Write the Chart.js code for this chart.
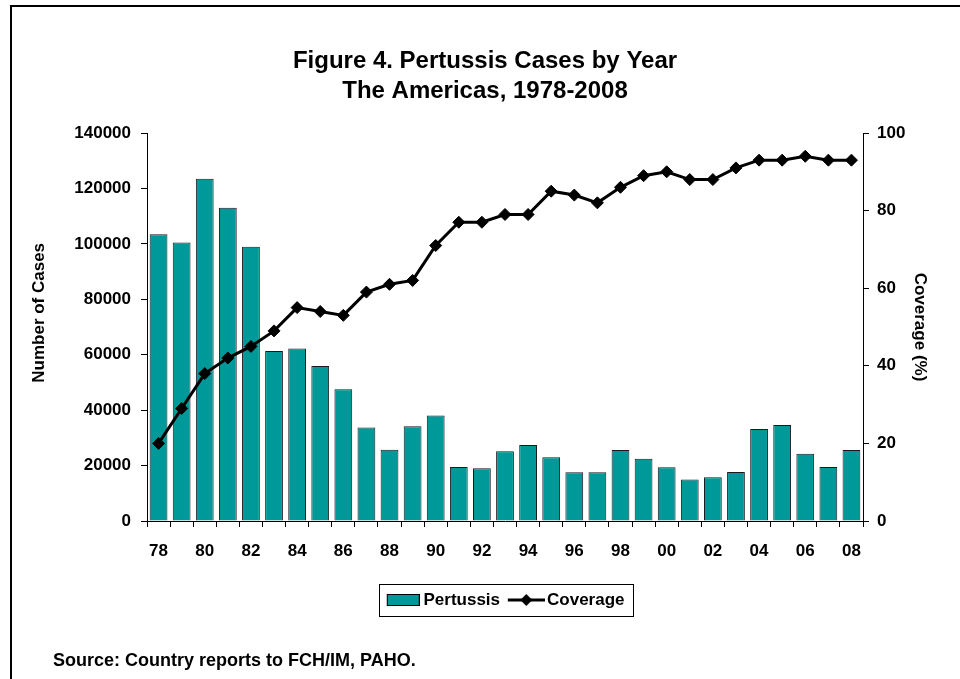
<!DOCTYPE html>
<html>
<head>
<meta charset="utf-8">
<script src="https://cdn.jsdelivr.net/npm/chart.js@4.4.1/dist/chart.umd.min.js"></script>
<style>
  html, body { margin: 0; padding: 0; background: #ffffff; }
  canvas { display: block; }
</style>
</head>
<body>
<canvas id="c" width="960" height="679"></canvas>
<script>
// ---- data ----
const years = ['78','79','80','81','82','83','84','85','86','87','88','89','90','91','92','93','94','95','96','97','98','99','00','01','02','03','04','05','06','07','08'];
const cases = [103500,100500,123500,113000,99000,61300,62200,55900,47500,33700,25700,34200,38100,19500,19000,25200,27400,23000,17600,17600,25600,22500,19400,15000,15800,17700,33200,34600,24300,19500,25600];
const coverage = [20,29,38,42,45,49,55,54,53,59,61,62,71,77,77,79,79,85,84,82,86,89,90,88,88,91,93,93,94,93,93];
const titleLines = ['Figure 4. Pertussis Cases by Year', 'The Americas, 1978-2008'];
const leftAxisTitle = 'Number of Cases';
const rightAxisTitle = 'Coverage (%)';
const seriesNames = ['Pertussis', 'Coverage'];
const sourceNote = 'Source: Country reports to FCH/IM, PAHO.';

const FONT = "'Liberation Sans', Arial, Helvetica, sans-serif";
const TEAL = '#009999';

Chart.defaults.font.family = FONT;
Chart.defaults.font.weight = 'bold';
Chart.defaults.color = '#000';

function makeBarSwatch() {
  const c = document.createElement('canvas');
  c.width = 39; c.height = 12;
  const g = c.getContext('2d');
  g.fillStyle = TEAL;
  g.fillRect(6, 0, 33, 12);
  g.strokeStyle = '#000';
  g.lineWidth = 1;
  g.strokeRect(6.5, 0.5, 32, 11);
  return c;
}
function makeLineSwatch() {
  const c = document.createElement('canvas');
  c.width = 42; c.height = 14;
  const g = c.getContext('2d');
  g.strokeStyle = '#000';
  g.lineWidth = 3;
  g.beginPath(); g.moveTo(5, 7); g.lineTo(42, 7); g.stroke();
  g.fillStyle = '#000';
  g.beginPath();
  g.moveTo(23.5, 1); g.lineTo(29.5, 7); g.lineTo(23.5, 13); g.lineTo(17.5, 7); g.closePath();
  g.fill();
  return c;
}
const barSwatch = makeBarSwatch();
const lineSwatch = makeLineSwatch();

const tickFont = { size: 17, weight: 'bold', family: FONT };

const decor = {
  id: 'decor',
  afterDraw(chart) {
    const ctx = chart.ctx;
    ctx.save();
    ctx.fillStyle = '#000';
    ctx.fillRect(10, 5, 950, 2);
    ctx.fillRect(10, 5, 2, 674);
    const hb = chart.legend && chart.legend.legendHitBoxes;
    if (hb && hb.length) {
      const last = hb[hb.length - 1];
      const l = Math.round(hb[0].left - 6);
      const r = Math.round(last.left + last.width + 8);
      const t = Math.round(hb[0].top - 8);
      const b = Math.round(hb[0].top + hb[0].height + 7);
      ctx.strokeStyle = '#000';
      ctx.lineWidth = 1;
      ctx.strokeRect(l + 0.5, t + 0.5, r - l, b - t);
    }
    ctx.font = "bold 18px " + FONT;
    ctx.textAlign = 'left';
    ctx.textBaseline = 'alphabetic';
    ctx.fillStyle = '#000';
    ctx.fillText(sourceNote, 53, 666);
    ctx.restore();
  }
};

new Chart(document.getElementById('c'), {
  type: 'bar',
  data: {
    labels: years,
    datasets: [
      {
        type: 'bar',
        label: seriesNames[0],
        data: cases,
        yAxisID: 'y',
        backgroundColor: TEAL,
        borderColor: '#1a1a1a',
        borderWidth: 1,
        barPercentage: 0.77,
        categoryPercentage: 1.0,
        order: 1
      },
      {
        type: 'line',
        label: seriesNames[1],
        data: coverage,
        yAxisID: 'y1',
        borderColor: '#000',
        borderWidth: 3,
        pointStyle: 'rectRot',
        pointRadius: 6,
        pointBackgroundColor: '#000',
        pointBorderColor: '#000',
        pointBorderWidth: 1,
        tension: 0,
        fill: false,
        order: 0
      }
    ]
  },
  options: {
    responsive: false,
    animation: false,
    devicePixelRatio: 1,
    layout: { padding: { top: 0, left: 10, right: 0, bottom: 60.5 } },
    plugins: {
      tooltip: { enabled: false },
      title: {
        display: true,
        text: titleLines,
        color: '#000',
        font: { size: 24, weight: 'bold', family: FONT, lineHeight: 1.25 },
        padding: { top: 46, bottom: 27 }
      },
      legend: {
        display: true,
        position: 'bottom',
        fullSize: false,
        labels: {
          usePointStyle: true,
          pointStyleWidth: 29.5,
          padding: 9,
          color: '#000',
          font: { size: 17, weight: 'bold', family: FONT },
          generateLabels: () => [
            { text: seriesNames[0], pointStyle: barSwatch, datasetIndex: 0, hidden: false, fillStyle: TEAL, strokeStyle: '#000', lineWidth: 1, fontColor: '#000' },
            { text: seriesNames[1], pointStyle: lineSwatch, datasetIndex: 1, hidden: false, fillStyle: '#000', strokeStyle: '#000', lineWidth: 1, fontColor: '#000' }
          ]
        }
      }
    },
    scales: {
      x: {
        offset: true,
        grid: { display: true, drawOnChartArea: false, drawTicks: true, tickLength: 6, color: '#000', offset: true },
        border: { display: true, color: '#000', width: 1 },
        ticks: {
          autoSkip: false, maxRotation: 0, minRotation: 0, padding: 14,
          font: tickFont, color: '#000',
          callback: (v, i) => (i % 2 === 0 ? years[i] : '')
        },
        afterFit: (s) => { s.height = 61.5; }
      },
      y: {
        position: 'left',
        min: 0, max: 140000,
        grid: { display: true, drawOnChartArea: false, drawTicks: true, tickLength: 6, color: '#000' },
        border: { display: true, color: '#000', width: 1 },
        ticks: { stepSize: 20000, padding: 10, font: tickFont, color: '#000', callback: (v) => String(v) },
        title: { display: true, text: '\u00A0\u00A0\u00A0\u00A0\u00A0\u00A0' + leftAxisTitle, color: '#000', font: { size: 17, weight: 'bold', family: FONT }, padding: { top: 19, bottom: 0 } },
        afterFit: (s) => { s.width = 137; }
      },
      y1: {
        position: 'right',
        min: 0, max: 100,
        grid: { display: true, drawOnChartArea: false, drawTicks: true, tickLength: 6, color: '#000' },
        border: { display: true, color: '#000', width: 1 },
        ticks: { stepSize: 20, padding: 8, font: tickFont, color: '#000', callback: (v) => String(v) },
        title: { display: true, text: rightAxisTitle, color: '#000', font: { size: 17, weight: 'bold', family: FONT }, padding: { top: 30, bottom: 0 } },
        afterFit: (s) => { s.width = 97; }
      }
    }
  },
  plugins: [decor]
});
</script>
</body>
</html>
